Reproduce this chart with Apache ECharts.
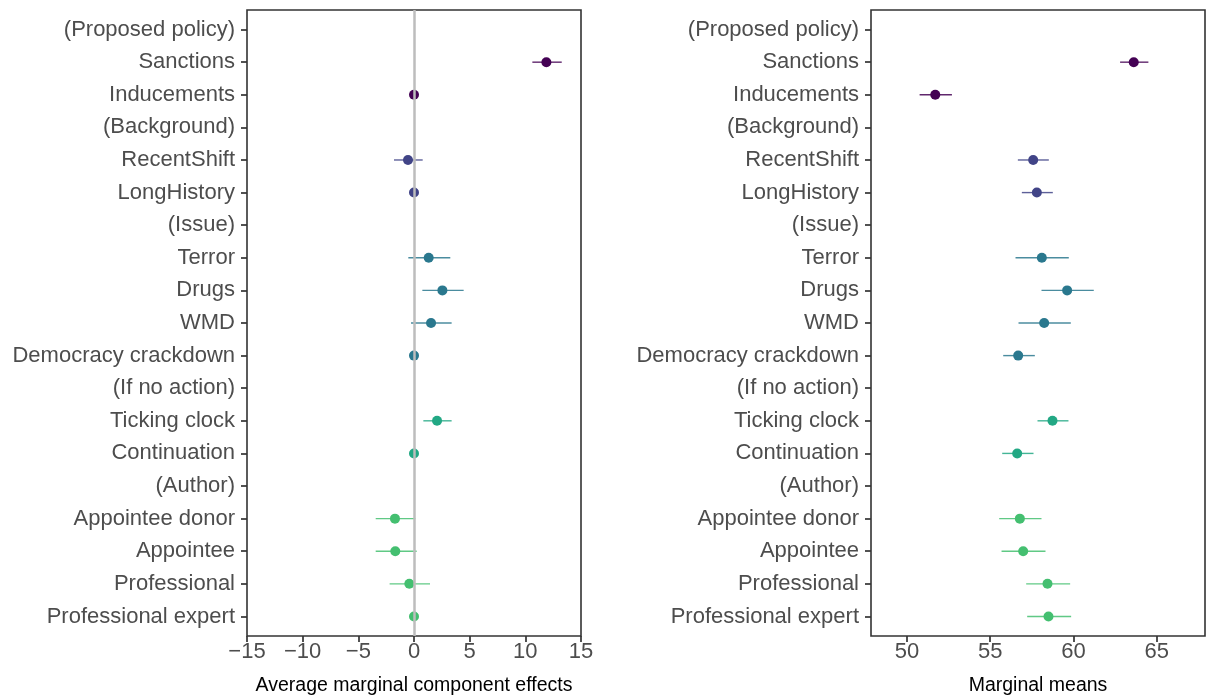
<!DOCTYPE html>
<html>
<head>
<meta charset="utf-8">
<script src="https://cdn.jsdelivr.net/npm/echarts@6/dist/echarts.min.js"></script>
<style>
html,body{margin:0;padding:0;background:#fff;}
#chart{width:1208px;height:698px;}
</style>
</head>
<body>
<div id="chart"></div>
<script>
var categories = ['(Proposed policy)','Sanctions','Inducements','(Background)','RecentShift','LongHistory','(Issue)','Terror','Drugs','WMD','Democracy crackdown','(If no action)','Ticking clock','Continuation','(Author)','Appointee donor','Appointee','Professional','Professional expert'];
var groupOf = [0,0,0,1,1,1,2,2,2,2,2,3,3,3,4,4,4,4,4];
var groupColors = ['#440154','#414487','#2A788E','#22A884','#44BF70'];

var amceEst  = [null, 11.89, 0, null, -0.54, 0, null, 1.32, 2.55, 1.53, 0, null, 2.07, 0, null, -1.71, -1.68, -0.42, 0];
var amceLow  = [null, 10.63, null, null, -1.80, null, null, -0.51, 0.75, -0.27, null, null, 0.84, null, null, -3.44, -3.44, -2.19, null];
var amceHigh = [null, 13.27, null, null, 0.78, null, null, 3.26, 4.46, 3.38, null, null, 3.38, null, null, 0.12, 0.24, 1.44, null];

var mmEst  = [null, 63.62, 51.70, null, 57.58, 57.80, null, 58.10, 59.62, 58.24, 56.68, null, 58.74, 56.62, null, 56.78, 56.98, 58.44, 58.50];
var mmLow  = [null, 62.80, 50.76, null, 56.66, 56.90, null, 56.52, 58.08, 56.70, 55.78, null, 57.84, 55.72, null, 55.54, 55.68, 57.16, 57.22];
var mmHigh = [null, 64.50, 52.70, null, 58.52, 58.76, null, 59.72, 61.22, 59.84, 57.68, null, 59.70, 57.60, null, 58.08, 58.32, 59.80, 59.86];

var amceTicks = [-15,-10,-5,0,5,10,15];
var mmTicks = [50,55,60,65];

var FONT = '"Liberation Sans", Arial, sans-serif';
var rowIdx = categories.map(function(_, i){ return i; });

function pointData(est){
  var out = [];
  est.forEach(function(v, i){
    if (v === null) return;
    out.push({value:[v, i], itemStyle:{color: groupColors[groupOf[i]], opacity:1}});
  });
  return out;
}
function ciData(lo, hi){
  var out = [];
  lo.forEach(function(v, i){
    if (v === null || hi[i] === null) return;
    out.push([v, hi[i], i, groupOf[i]]);
  });
  return out;
}
function renderCI(params, api){
  var p1 = api.coord([api.value(0), api.value(2)]);
  var p2 = api.coord([api.value(1), api.value(2)]);
  return {
    type:'line',
    shape:{x1:p1[0], y1:p1[1], x2:p2[0], y2:p2[1]},
    style:{stroke: groupColors[api.value(3)], lineWidth:1.4, opacity:0.85}
  };
}
function minusFmt(v){ return (v < 0 ? '\u2212' : '') + Math.abs(v); }

function yAxisDef(gi){
  return {
    gridIndex: gi, type:'value', inverse:true, min:-0.6, max:18.6, position:'left',
    splitLine:{show:false},
    axisLine:{show:false, onZero:false},
    axisTick:{show:true, length:6, customValues: rowIdx, lineStyle:{color:'#333', width:1.7}},
    axisLabel:{show:true, customValues: rowIdx, margin:12, color:'#4d4d4d', fontSize:22, fontFamily:FONT,
      formatter:function(v){ return categories[Math.round(v)]; }}
  };
}

var option = {
  backgroundColor:'#fff',
  animation:false,
  grid:[
    {left:247, top:10, width:334, height:626, show:true, borderColor:'#333', borderWidth:1.6, backgroundColor:'transparent', containLabel:false, outerBoundsMode:'none'},
    {left:871, top:10, width:334, height:626, show:true, borderColor:'#333', borderWidth:1.6, backgroundColor:'transparent', containLabel:false, outerBoundsMode:'none'}
  ],
  xAxis:[
    {gridIndex:0, type:'value', min:-15, max:15, position:'bottom',
     splitLine:{show:false}, axisLine:{show:false, onZero:false},
     axisTick:{show:true, length:6, customValues: amceTicks, lineStyle:{color:'#333', width:1.7}},
     axisLabel:{show:true, customValues: amceTicks, margin:5, color:'#4d4d4d', fontSize:22, fontFamily:FONT, formatter:minusFmt},
     name:'Average marginal component effects', nameLocation:'middle', nameGap:40,
     nameTextStyle:{color:'#000', fontSize:19.5, fontFamily:FONT}},
    {gridIndex:1, type:'value', min:47.84, max:67.9, position:'bottom',
     splitLine:{show:false}, axisLine:{show:false, onZero:false},
     axisTick:{show:true, length:6, customValues: mmTicks, lineStyle:{color:'#333', width:1.7}},
     axisLabel:{show:true, customValues: mmTicks, margin:5, color:'#4d4d4d', fontSize:22, fontFamily:FONT},
     name:'Marginal means', nameLocation:'middle', nameGap:40,
     nameTextStyle:{color:'#000', fontSize:19.5, fontFamily:FONT}}
  ],
  yAxis:[ yAxisDef(0), yAxisDef(1) ],
  series:[
    {type:'custom', xAxisIndex:0, yAxisIndex:0, renderItem:renderCI, data:ciData(amceLow, amceHigh), z:3,
     markLine:{silent:true, symbol:['none','none'], label:{show:false},
       lineStyle:{color:'#bdbdbd', width:2.5, type:'solid'}, data:[{xAxis:0}]}},
    {type:'scatter', xAxisIndex:0, yAxisIndex:0, symbolSize:10, data:pointData(amceEst), z:4},
    {type:'custom', xAxisIndex:1, yAxisIndex:1, renderItem:renderCI, data:ciData(mmLow, mmHigh), z:3},
    {type:'scatter', xAxisIndex:1, yAxisIndex:1, symbolSize:10, data:pointData(mmEst), z:4}
  ]
};
var chart = echarts.init(document.getElementById('chart'), null, {renderer:'canvas'});
chart.setOption(option);
</script>
</body>
</html>
